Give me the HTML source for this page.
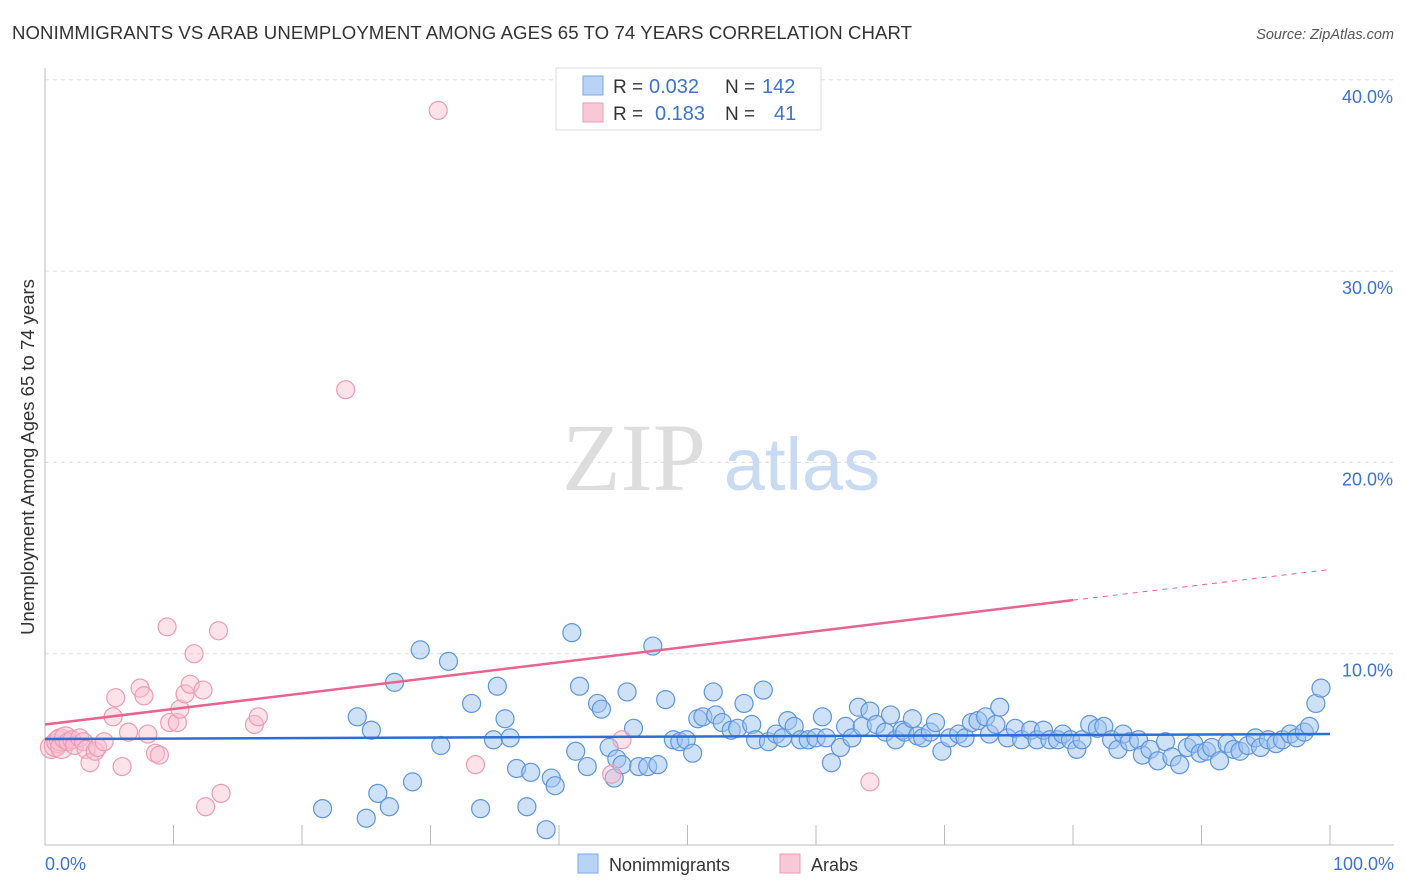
<!DOCTYPE html>
<html><head><meta charset="utf-8"><style>
body{margin:0;background:#fff;font-family:"Liberation Sans",sans-serif}
#wrap{position:relative;width:1406px;height:892px;overflow:hidden}
</style></head><body>
<div id="wrap">
<svg id="svg" width="1406" height="892" xmlns="http://www.w3.org/2000/svg">
<text x="12" y="39" font-size="18.6" fill="#333" textLength="900">NONIMMIGRANTS VS ARAB UNEMPLOYMENT AMONG AGES 65 TO 74 YEARS CORRELATION CHART</text>
<text x="1394" y="39" font-size="14.5" fill="#555" font-style="italic" text-anchor="end">Source: ZipAtlas.com</text>
<text x="634" y="490" font-size="96" fill="#ddd" font-family="Liberation Serif,serif" text-anchor="middle">ZIP</text>
<text x="802" y="490" font-size="74" fill="#c9dbf2" text-anchor="middle">atlas</text>
<text transform="translate(34,457) rotate(-90)" font-size="18.5" fill="#333" text-anchor="middle">Unemployment Among Ages 65 to 74 years</text>
<g id="grid"></g><g id="pts"></g><g id="lines"></g>
<g>
<rect x="556" y="68" width="265" height="62" fill="#fff" stroke="#ddd"/>
<rect x="583" y="76" width="20" height="19" fill="#b9d3f5" stroke="#7aa8e6"/>
<rect x="583" y="103" width="20" height="19" fill="#f9c8d6" stroke="#ee9bb4"/>
<text x="613" y="93" font-size="19" fill="#333">R =</text>
<text x="649" y="93" font-size="20" fill="#3b73d1">0.032</text>
<text x="725" y="93" font-size="19" fill="#333">N =</text>
<text x="762" y="93" font-size="20" fill="#3b73d1">142</text>
<text x="613" y="120" font-size="19" fill="#333">R =</text>
<text x="655" y="120" font-size="20" fill="#3b73d1">0.183</text>
<text x="725" y="120" font-size="19" fill="#333">N =</text>
<text x="774" y="120" font-size="20" fill="#3b73d1">41</text>
</g>
<g>
<rect x="578" y="854" width="20" height="19" fill="#b9d3f5" stroke="#7aa8e6"/>
<text x="609" y="871" font-size="18" fill="#333">Nonimmigrants</text>
<rect x="780" y="854" width="20" height="19" fill="#f9c8d6" stroke="#ee9bb4"/>
<text x="811" y="871" font-size="18" fill="#333">Arabs</text>
</g>
</svg>
</div>
<script>
const yTicks=[10,20,30,40];
const yTickLabels=["10.0%","20.0%","30.0%","40.0%"];
const xTicks=[0,10,20,30,40,50,60,70,80,90,100];
const blueX=[21.6,24.3,25.0,25.4,25.9,26.8,27.2,28.6,29.2,30.8,31.4,33.2,33.9,34.9,35.2,35.8,36.2,36.7,37.5,37.8,39.0,39.4,39.7,41.0,41.3,41.6,42.2,43.0,43.3,43.9,44.3,44.5,44.9,45.3,45.8,46.2,46.9,47.3,47.7,48.3,48.9,49.4,49.9,50.4,50.8,51.2,52.0,52.2,52.7,53.4,53.9,54.4,55.0,55.3,55.9,56.3,56.9,57.4,57.8,58.3,58.8,59.4,60.0,60.5,60.8,61.2,61.9,62.3,62.8,63.3,63.6,64.2,64.7,65.4,65.8,66.2,66.7,66.9,67.5,67.9,68.3,68.9,69.3,69.8,70.4,71.1,71.6,72.1,72.6,73.2,73.5,74.0,74.3,74.9,75.5,76.0,76.7,77.2,77.7,78.2,78.8,79.2,79.8,80.3,80.7,81.3,81.9,82.4,83.0,83.5,83.9,84.4,85.1,85.4,86.0,86.6,87.2,87.7,88.3,88.9,89.4,89.9,90.4,90.8,91.4,92.0,92.5,93.0,93.6,94.2,94.6,95.2,95.8,96.3,96.9,97.4,98.0,98.4,98.9,99.3];
const blueY=[1.9,6.7,1.4,6.0,2.7,2.0,8.5,3.3,10.2,5.2,9.6,7.4,1.9,5.5,8.3,6.6,5.6,4.0,2.0,3.8,0.8,3.5,3.1,11.1,4.9,8.3,4.1,7.4,7.1,5.1,3.5,4.5,4.2,8.0,6.1,4.1,4.1,10.4,4.2,7.6,5.5,5.4,5.5,4.8,6.6,6.7,8.0,6.8,6.4,6.0,6.1,7.4,6.3,5.5,8.1,5.4,5.8,5.6,6.5,6.2,5.5,5.5,5.6,6.7,5.6,4.3,5.1,6.2,5.6,7.2,6.2,7.0,6.3,5.9,6.8,5.5,6.0,5.9,6.6,5.7,5.6,5.9,6.4,4.9,5.6,5.8,5.6,6.4,6.5,6.7,5.8,6.3,7.2,5.6,6.1,5.5,6.0,5.5,6.0,5.5,5.5,5.8,5.5,5.0,5.5,6.3,6.1,6.2,5.5,5.0,5.8,5.4,5.5,4.7,5.0,4.4,5.4,4.6,4.2,5.1,5.3,4.8,4.9,5.1,4.4,5.3,5.0,4.9,5.2,5.6,5.1,5.5,5.3,5.5,5.8,5.6,5.9,6.2,7.4,8.2];
const pinkX=[0.5,0.8,1.0,1.2,1.3,1.6,1.8,2.1,2.3,2.7,3.0,3.2,3.5,3.9,4.1,4.6,5.3,5.5,6.0,6.5,7.4,7.7,8.0,8.6,8.9,9.5,9.7,10.3,10.5,10.9,11.3,11.6,12.3,12.5,13.5,13.7,16.3,16.6,23.4,30.6,33.5,44.1,44.9,64.2];
const pinkY=[5.1,5.2,5.4,5.5,5.1,5.6,5.4,5.5,5.2,5.6,5.4,5.0,4.3,4.9,5.1,5.4,6.7,7.7,4.1,5.9,8.2,7.8,5.8,4.8,4.7,11.4,6.4,6.4,7.1,7.9,8.4,10.0,8.1,2.0,11.2,2.7,6.3,6.7,23.8,38.4,4.2,3.7,5.5,3.3];
const blueTrend=[5.54,5.8];
const pinkTrend=[6.3,12.8,14.4];
const pinkSolidEnd=80;

const NS="http://www.w3.org/2000/svg";
const X=v=>45+v*12.85, Y=v=>845-v*19.13;
function mk(tag,attrs,parent){const e=document.createElementNS(NS,tag);for(const k in attrs)e.setAttribute(k,attrs[k]);parent.appendChild(e);return e;}
const grid=document.getElementById('grid'),pts=document.getElementById('pts'),lines=document.getElementById('lines');
yTicks.forEach((t,i)=>{
 const l=mk('line',{x1:45,x2:1394,y1:Y(t),y2:Y(t),stroke:'#ddd','stroke-dasharray':'4,4'},grid);
 
 
 const tx=mk('text',{x:1393,y:Y(t)+23,'font-size':18,fill:'#3b73d1','text-anchor':'end'},grid);
 tx.textContent=yTickLabels[i];
 
 
});
const ax=mk('line',{x1:45,x2:1394,y1:845,y2:845,stroke:'#bbb'},grid);


const ay=mk('line',{x1:45,x2:45,y1:68,y2:845,stroke:'#bbb'},grid);


xTicks.forEach(t=>{
 const l=mk('line',{x1:X(t),x2:X(t),y1:825,y2:845,stroke:'#bbb'},grid);
 
 
});
[[0,'0.0%','start',45],[100,'100.0%','end',1394]].forEach(a=>{
 const tx=mk('text',{x:a[3],y:870,'font-size':18,fill:'#3b73d1','text-anchor':a[2]},grid);
 tx.textContent=a[1];
 
 
});
blueX.forEach((x,i)=>{
 const c=mk('circle',{cx:X(x),cy:Y(blueY[i]),r:9,fill:'rgba(160,196,240,0.5)',stroke:'#5d95de','stroke-width':1.2},pts);
 
 
});
pinkX.forEach((x,i)=>{
 const c=mk('circle',{cx:X(x),cy:Y(pinkY[i]),r:i<6?11:9,fill:'rgba(248,190,206,0.45)',stroke:'#ee9bb4','stroke-width':1.2},pts);
 
 
});
const bl=mk('line',{x1:X(0),x2:X(100),y1:Y(blueTrend[0]),y2:Y(blueTrend[1]),stroke:'#2a6fd6','stroke-width':2.5},lines);


const pl=mk('line',{x1:X(0),x2:X(pinkSolidEnd),y1:Y(pinkTrend[0]),y2:Y(pinkTrend[1]),stroke:'#e8638e','stroke-width':2.5},lines);


const pd=mk('line',{x1:X(pinkSolidEnd),x2:X(100),y1:Y(pinkTrend[1]),y2:Y(pinkTrend[2]),stroke:'#e8638e','stroke-width':1,'stroke-dasharray':'5,5'},lines);


</script>
</body></html>
